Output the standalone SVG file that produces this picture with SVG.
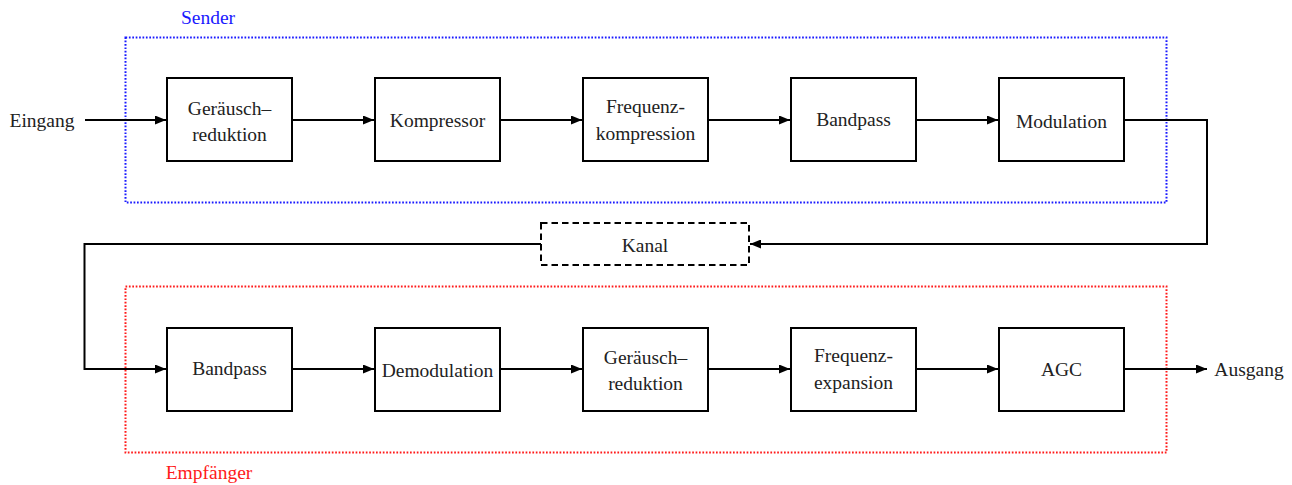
<svg xmlns="http://www.w3.org/2000/svg" width="1292" height="485" viewBox="0 0 1292 485">
<style>
text{font-family:'Liberation Serif','DejaVu Serif',serif;font-size:19.5px;fill:#222;text-anchor:middle;dominant-baseline:central}
.box{fill:#fff;stroke:#000;stroke-width:2}
.kanal{fill:#fff;stroke:#000;stroke-width:2;stroke-dasharray:6.5 4}
.conn{fill:none;stroke:#000;stroke-width:2}
.fs{fill:none;stroke:#1a1aff;stroke-width:2;stroke-dasharray:1.7 1.7}
.fe{fill:none;stroke:#ff1a1a;stroke-width:2;stroke-dasharray:1.7 1.7}
</style>
<defs>
<marker id="ah" viewBox="0 0 11 9" refX="11" refY="4.5" markerWidth="11" markerHeight="9" markerUnits="userSpaceOnUse" orient="auto">
<path d="M0,0 L11,4.5 L0,9 Z" fill="#000"/>
</marker>
</defs>
<g id="sender-frame">
<rect class="fs" x="125.5" y="37.5" width="1041" height="165"/>
<text x="208" y="17" style="fill:#1a1aff">Sender</text>
</g>
<g id="empfaenger-frame">
<rect class="fe" x="125.5" y="286.5" width="1041" height="166"/>
<text x="209" y="472" style="fill:#ff1a1a">Empfänger</text>
</g>
<g id="connectors">
<path class="conn" d="M85,120 H166" marker-end="url(#ah)"/>
<path class="conn" d="M292,120 H374" marker-end="url(#ah)"/>
<path class="conn" d="M500,120 H582" marker-end="url(#ah)"/>
<path class="conn" d="M708,120 H790" marker-end="url(#ah)"/>
<path class="conn" d="M916,120 H998" marker-end="url(#ah)"/>
<path class="conn" d="M1124,120 H1207 V244 H750" marker-end="url(#ah)"/>
<path class="conn" d="M541,244 H84.5 V369 H166" marker-end="url(#ah)"/>
<path class="conn" d="M292,369 H374" marker-end="url(#ah)"/>
<path class="conn" d="M500,369 H582" marker-end="url(#ah)"/>
<path class="conn" d="M708,369 H790" marker-end="url(#ah)"/>
<path class="conn" d="M916,369 H998" marker-end="url(#ah)"/>
<path class="conn" d="M1124,369 H1207" marker-end="url(#ah)"/>
</g>
<g id="eingang"><text x="42" y="120">Eingang</text></g>
<g id="ausgang"><text x="1249" y="369">Ausgang</text></g>
<g id="s1"><rect class="box" x="167" y="78" width="125" height="83"/><text x="229.5" y="108">Geräusch–</text><text x="229.5" y="134">reduktion</text></g>
<g id="s2"><rect class="box" x="375" y="78" width="125" height="83"/><text x="437.5" y="120">Kompressor</text></g>
<g id="s3"><rect class="box" x="583" y="78" width="125" height="83"/><text x="645.5" y="106">Frequenz-</text><text x="645.5" y="133">kompression</text></g>
<g id="s4"><rect class="box" x="791" y="78" width="125" height="83"/><text x="853.5" y="119">Bandpass</text></g>
<g id="s5"><rect class="box" x="999" y="78" width="125" height="83"/><text x="1061.5" y="121">Modulation</text></g>
<g id="kanal"><rect class="kanal" x="541" y="223" width="208" height="42"/><text x="645" y="245">Kanal</text></g>
<g id="e1"><rect class="box" x="167" y="328" width="125" height="83"/><text x="229.5" y="368">Bandpass</text></g>
<g id="e2"><rect class="box" x="375" y="328" width="125" height="83"/><text x="437.5" y="370">Demodulation</text></g>
<g id="e3"><rect class="box" x="583" y="328" width="125" height="83"/><text x="645.5" y="357">Geräusch–</text><text x="645.5" y="383">reduktion</text></g>
<g id="e4"><rect class="box" x="791" y="328" width="125" height="83"/><text x="853.5" y="355">Frequenz-</text><text x="853.5" y="382">expansion</text></g>
<g id="e5"><rect class="box" x="999" y="328" width="125" height="83"/><text x="1061.5" y="369">AGC</text></g>
</svg>
